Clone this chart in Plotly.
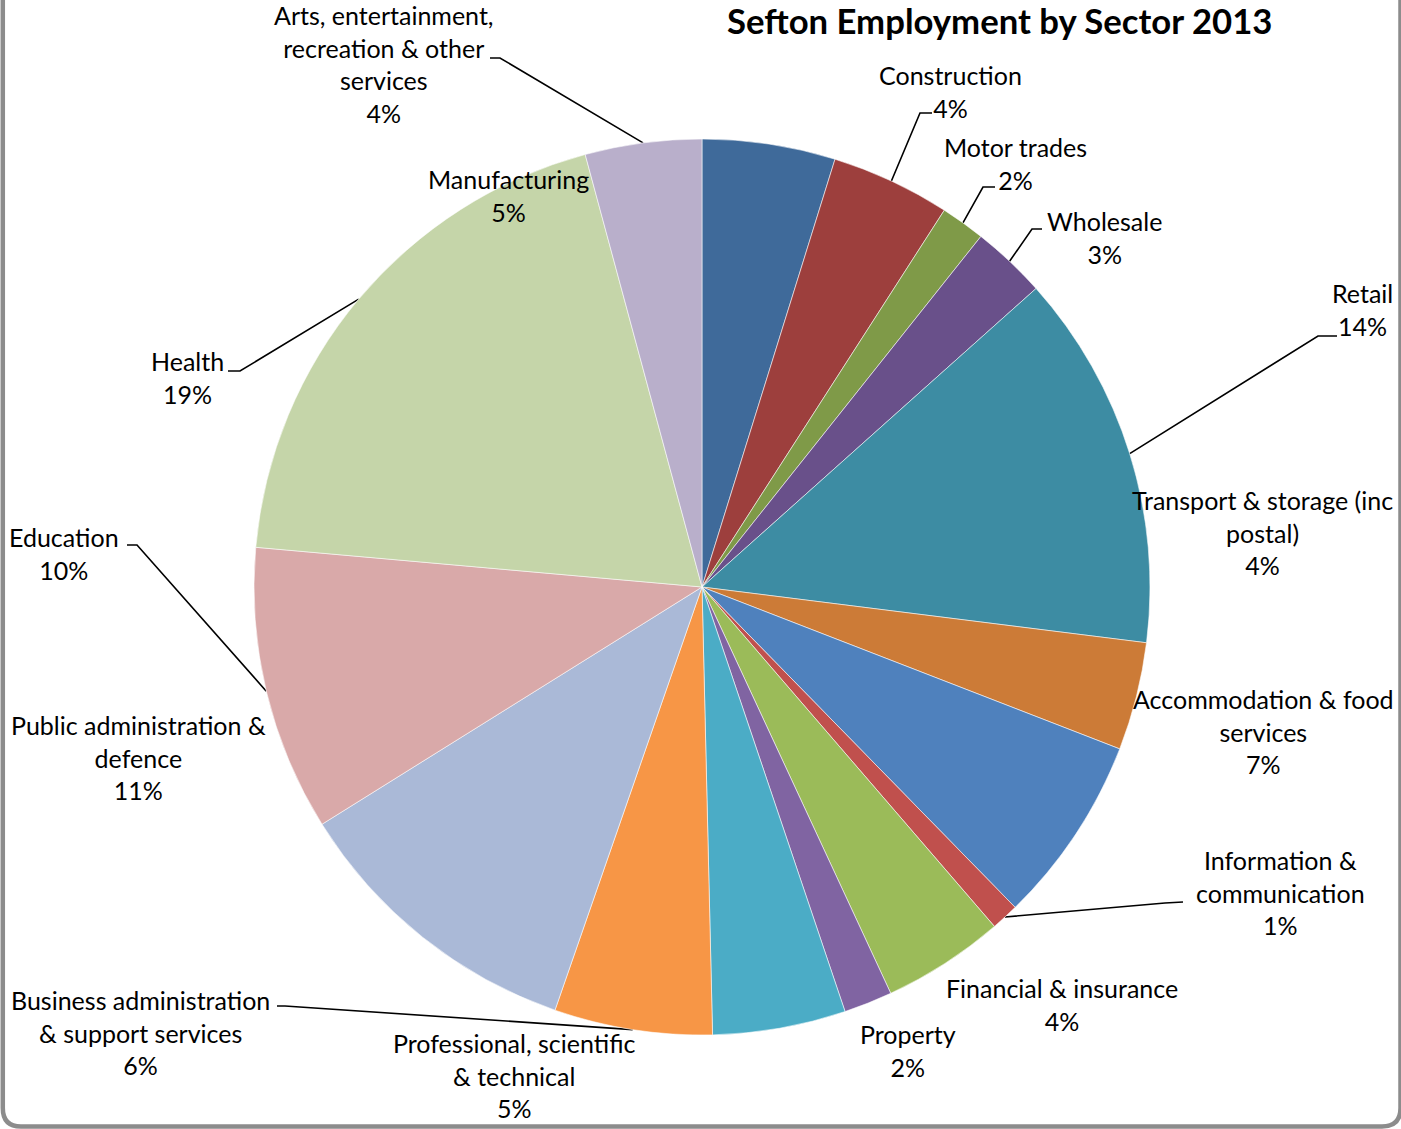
import math
import plotly.graph_objects as go

# Sefton employment by sector, 2013 (share of employees, %)
sectors = [
    "Manufacturing", "Construction", "Motor trades", "Wholesale", "Retail",
    "Transport & storage (inc postal)", "Accommodation & food services",
    "Information & communication", "Financial & insurance", "Property",
    "Professional, scientific & technical",
    "Business administration & support services",
    "Public administration & defence", "Education", "Health",
    "Arts, entertainment, recreation & other services",
]
share = [4.8, 4.3, 1.6, 2.7, 13.6, 3.9, 6.8, 1.0, 4.4, 1.75, 4.8, 5.7, 10.8, 10.3, 19.4, 4.2]

# How each data label wraps
label_text = [
    "Manufacturing", "Construction", "Motor trades", "Wholesale", "Retail",
    "Transport & storage (inc<br>postal)", "Accommodation & food<br>services",
    "Information &<br>communication", "Financial & insurance", "Property",
    "Professional, scientific<br>& technical",
    "Business administration<br>& support services",
    "Public administration &<br>defence", "Education", "Health",
    "Arts, entertainment,<br>recreation & other<br>services",
]

colors = [
    "#3F6A9A", "#9D3F3D", "#7F9A48", "#69508A", "#3D8CA3", "#CC7B37",
    "#4F81BD", "#C0504D", "#9BBB59", "#8064A2", "#4BACC6", "#F79646",
    "#AAB9D7", "#D9A9A9", "#C5D5A9", "#B9AFCB",
]

W, H = 1401, 1129
CX, CY, R = 702, 587, 448          # pie centre and radius in pixels
FONT = "Lato"

# Label block centres (pixels) and optional leader line (end x, end y, elbow x, elbow y)
label_pos = [
    (508, 195, None),
    (950, 91, (932, 113, 920, 113)),
    (1015, 163, (995, 187, 983, 187)),
    (1104, 237, (1042, 229, 1032, 229)),
    (1362, 309, (1337, 336, 1318, 336)),
    (1262, 532, None),
    (1263, 731, None),
    (1280, 892, (1183, 902, 1165, 903)),
    (1062, 1004, None),
    (908, 1050, None),
    (514, 1075, None),
    (140, 1032, (277, 1006, 285, 1006)),
    (138, 757, None),
    (64, 553, (127, 545, 137, 545)),
    (187, 377, (228, 371, 240, 371)),
    (384, 64, (490, 58, 500, 58)),
]

total = sum(share)

fig = go.Figure()

# invisible pixel-space axes used for labels, leader lines and the frame
fig.add_trace(go.Scatter(x=[0, W], y=[0, H], mode="markers",
                         marker=dict(opacity=0), hoverinfo="skip", showlegend=False))

fig.add_trace(go.Pie(
    labels=sectors, values=share, sort=False, direction="clockwise", rotation=0,
    marker=dict(colors=colors, line=dict(color="rgba(255,255,255,0.55)", width=1)),
    textinfo="none", hoverinfo="label+percent", showlegend=False,
    domain=dict(x=[(CX - R) / W, (CX + R) / W],
                y=[(H - CY - R) / H, (H - CY + R) / H]),
))

annotations = []
cum = 0.0
for name, txt, v, (lx, ly, leader) in zip(sectors, label_text, share, label_pos):
    pct = round(100 * v / total)
    annotations.append(dict(
        x=lx, y=ly, xref="x", yref="y", xanchor="center", yanchor="middle",
        text=f"{txt}<br>{pct}%", showarrow=False, align="center",
        font=dict(family=FONT, size=25, color="#000000"),
    ))
    theta = 2 * math.pi * (cum + v / 2) / total
    if leader is not None:
        ex, ey, bx, by = leader
        px = CX + R * math.sin(theta)
        py = CY - R * math.cos(theta)
        fig.add_trace(go.Scatter(
            x=[ex, bx, px], y=[ey, by, py], mode="lines",
            line=dict(color="#000000", width=1.6), hoverinfo="skip", showlegend=False,
        ))
    cum += v

annotations.append(dict(
    x=999, y=20, xref="x", yref="y", xanchor="center", yanchor="middle",
    text="<b>Sefton Employment by Sector 2013</b>", showarrow=False,
    font=dict(family=FONT, size=34.7, color="#000000"),
))

# rounded chart-area frame
frame = ("M 2.8,-20 L 2.8,1108 Q 2.8,1126.5 21,1126.5 "
         "L 1382,1126.5 Q 1400.5,1126.5 1400.5,1108 L 1400.5,-20")

fig.update_layout(
    width=W, height=H, margin=dict(l=0, r=0, t=0, b=0),
    paper_bgcolor="white", plot_bgcolor="rgba(0,0,0,0)",
    xaxis=dict(range=[0, W], visible=False, fixedrange=True),
    yaxis=dict(range=[H, 0], visible=False, fixedrange=True),
    annotations=annotations,
    shapes=[dict(type="path", path=frame, xref="x", yref="y",
                 line=dict(color="#8C8C8C", width=4.5))],
)

fig.write_html("out.html")
